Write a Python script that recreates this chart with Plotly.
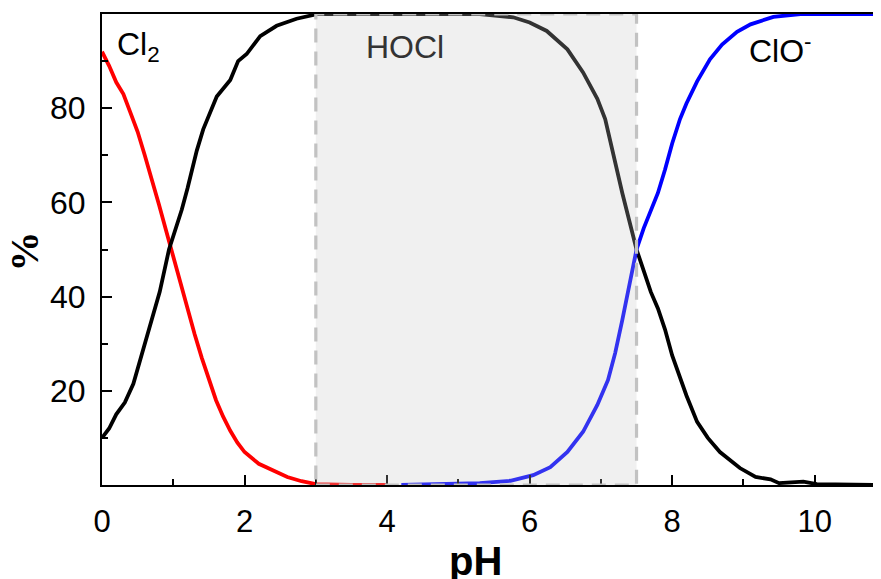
import plotly.graph_objects as go

# Cl2 fraction (red)
ph_cl2 = [0.0, 0.1, 0.2, 0.3, 0.4, 0.5, 0.6, 0.7, 0.8, 0.9, 1.0, 1.1, 1.2, 1.3, 1.4, 1.5,
          1.6, 1.7, 1.8, 1.9, 2.0, 2.2, 2.4, 2.6, 2.8, 3.0, 3.5, 4.0]
pct_cl2 = [92, 89, 85.5, 83, 79, 75, 70, 65, 59.5, 54, 48.5, 43, 37, 32, 27, 22.5,
           18, 14.5, 11.5, 9, 7, 4.5, 3, 1.7, 0.8, 0.2, 0, 0]

# HOCl fraction (black)
ph_hocl = [0.0, 0.1, 0.2, 0.32, 0.44, 0.6, 0.81, 0.94, 1.05, 1.12, 1.2, 1.33, 1.42, 1.61, 1.8,
           1.91, 2.03, 2.22, 2.45, 2.73, 3.03, 4.0, 5.3, 5.77, 6.0, 6.24, 6.53, 6.75, 6.95,
           7.06, 7.2, 7.3, 7.4, 7.5, 7.6, 7.7, 7.8, 7.9, 8.0, 8.11, 8.2, 8.35, 8.5, 8.67,
           8.95, 9.17, 9.38, 9.5, 9.7, 9.84, 10.03, 10.5, 10.93]
pct_hocl = [10, 12, 15, 17.5, 21.5, 30, 41, 50, 55, 58.5, 63, 71, 75.5, 82.5, 86,
            90, 91.5, 95.3, 97.5, 99, 100, 100, 100, 99.3, 98.2, 96.4, 92.5, 87.6, 82,
            77.7, 68, 62, 56, 50, 45.5, 41, 37.5, 33, 27.5, 22.5, 19, 13.4, 10, 7,
            3.6, 1.7, 1.2, 0.4, 0.5, 0.7, 0.2, 0, 0]

# ClO- fraction (blue)
ph_clo = [4.2, 4.88, 5.3, 5.73, 6.05, 6.29, 6.53, 6.75, 6.95, 7.1, 7.2, 7.3, 7.4, 7.5,
          7.6, 7.7, 7.8, 7.9, 8.0, 8.11, 8.2, 8.35, 8.53, 8.7, 8.91, 9.1, 9.42, 9.8, 10.93]
pct_clo = [0, 0.2, 0.4, 0.9, 2.1, 3.8, 7, 11.3, 17, 22.3, 28, 35, 43, 50,
           54.5, 58.5, 62, 67, 72.5, 77.7, 81, 85.7, 90.4, 93.5, 96.2, 97.8, 99.4, 100, 100]

x_ticks = [0, 2, 4, 6, 8, 10]
x_minor = [1, 3, 5, 7, 9]
y_ticks = [20, 40, 60, 80]
y_minor = [10, 30, 50, 70, 90]

fig = go.Figure()
fig.add_trace(go.Scatter(x=ph_cl2, y=pct_cl2, mode='lines', line=dict(color='#ff0000', width=3.8), cliponaxis=False))
fig.add_trace(go.Scatter(x=ph_hocl, y=pct_hocl, mode='lines', line=dict(color='#000000', width=3.8), cliponaxis=False))
fig.add_trace(go.Scatter(x=ph_clo, y=pct_clo, mode='lines', line=dict(color='#0000ff', width=3.8), cliponaxis=False))

# HOCl dominant region
fig.add_shape(type='rect', x0=3, x1=7.5, y0=0, y1=100, layer='above',
              fillcolor='rgba(196,196,196,0.26)',
              line=dict(color='#c2c2c2', width=3.2, dash='14px,9px'))

fig.add_annotation(x=0.18, y=93, text='Cl<sub>2</sub>', showarrow=False, xanchor='left',
                   font=dict(size=32, color='black'))
fig.add_annotation(x=4.25, y=93, text='HOCl', showarrow=False,
                   font=dict(size=32, color='#333333'))
fig.add_annotation(x=9.05, y=92.5, text='ClO<sup>-</sup>', showarrow=False, xanchor='left',
                   font=dict(size=32, color='black'))

# axis titles
fig.add_annotation(xref='paper', yref='paper', x=0.48, y=-0.161, text='<b>pH</b>', showarrow=False,
                   xanchor='center', yanchor='middle',
                   font=dict(size=40, family='Liberation Sans', color='black'))
fig.add_annotation(xref='paper', yref='paper', x=-0.1, y=0.496, text='<b>%</b>', showarrow=False,
                   xanchor='center', yanchor='middle', textangle=-90,
                   font=dict(size=40, family='Liberation Serif', color='black'))

fig.update_xaxes(range=[0, 10.93], tickvals=x_ticks, ticks='inside', ticklen=10, tickwidth=2,
                 tickcolor='black', showline=True, linecolor='black', linewidth=2, mirror=True,
                 showgrid=False, zeroline=False, ticklabelstandoff=8, tickfont=dict(size=31),
                 automargin=False,
                 minor=dict(tickvals=x_minor, ticks='inside', ticklen=6, tickwidth=2, tickcolor='black'))
fig.update_yaxes(range=[0, 100], tickvals=y_ticks, ticks='inside', ticklen=10, tickwidth=2,
                 tickcolor='black', showline=True, linecolor='black', linewidth=2,
                 showgrid=False, zeroline=False, ticklabelstandoff=8, tickfont=dict(size=32),
                 automargin=False,
                 minor=dict(tickvals=y_minor, ticks='inside', ticklen=6, tickwidth=2, tickcolor='black'))

# page body adds an 8px offset, so the figure is 8px smaller and margins shifted
fig.update_layout(width=873, height=571, margin=dict(l=94, r=0, t=6, b=94),
                  paper_bgcolor='white', plot_bgcolor='white', showlegend=False,
                  font=dict(family='Liberation Sans', size=31, color='black'))

fig.write_html("out.html")
